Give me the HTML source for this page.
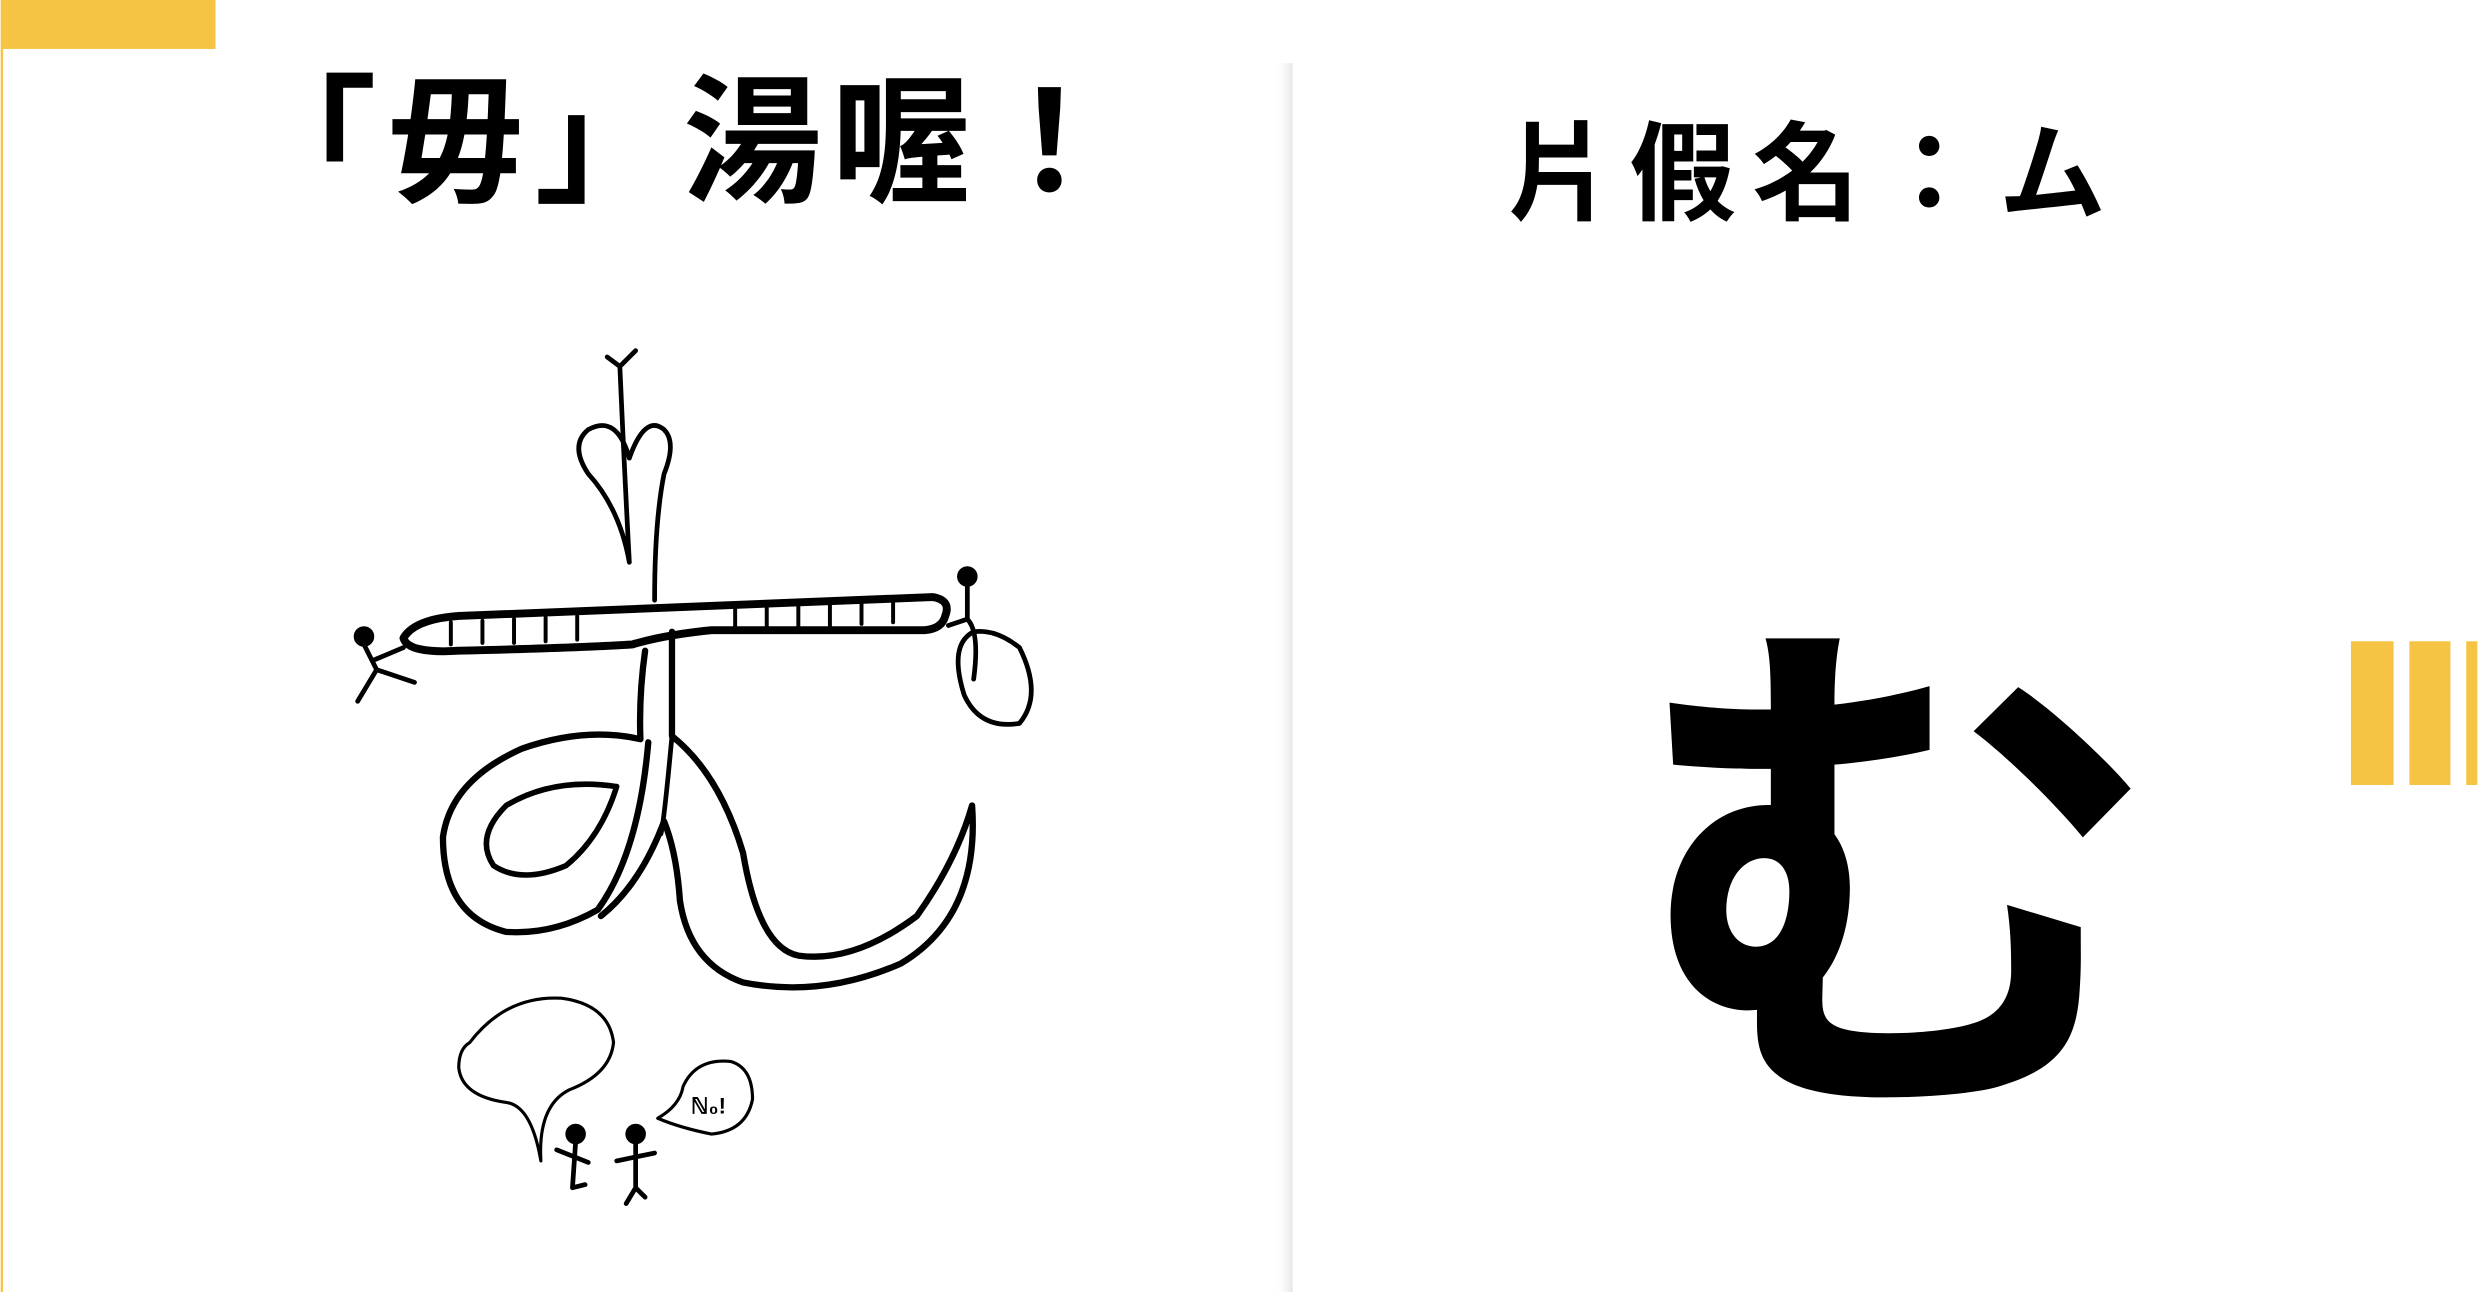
<!DOCTYPE html>
<html><head><meta charset="utf-8">
<style>
html,body{margin:0;padding:0;background:#fff;}
svg{display:block;}
text{font-family:"Liberation Sans","Noto Sans CJK TC","Noto Sans CJK JP",sans-serif;font-weight:700;fill:#000;}
</style></head>
<body>
<svg width="2478" height="1292" viewBox="0 0 1568 818" xmlns="http://www.w3.org/2000/svg">
  <defs>
    <linearGradient id="sh" x1="0" x2="1" y1="0" y2="0">
      <stop offset="0" stop-color="#fff" stop-opacity="0"/>
      <stop offset="1" stop-color="#e6e6e6"/>
    </linearGradient>
  </defs>
  <rect width="1568" height="818" fill="#fff"/>
  <rect x="0" y="0" width="136" height="31" fill="#f6c444"/>
  <rect x="0" y="31" width="1.5" height="787" fill="#f6c444"/>
  <text x="150" y="121" font-size="88" letter-spacing="6">「毋」湯喔！</text>
  <rect x="806" y="40" width="12" height="778" fill="url(#sh)"/>
  <text x="953" y="134" font-size="68" letter-spacing="10">片假名：ム</text>
  <text x="1030" y="676" font-size="336">む</text>
  <g fill="#f6c444">
    <rect x="1488" y="406" width="27" height="91"/>
    <rect x="1525" y="406" width="26" height="91"/>
    <rect x="1561" y="406" width="7" height="91"/>
  </g>
  <g fill="none" stroke="#000" stroke-width="3" stroke-linecap="round" stroke-linejoin="round">
    <path d="M255,404 Q262,392 290,390 L590,378 Q602,380 598,390 Q596,398 585,399 L450,399 Q420,402 400,408 Q370,410 290,412 Q258,414 255,404 Z" stroke-width="5"/>
    <path d="M285,394 v14 M305,393 v14 M325,392 v15 M345,391 v15 M365,390 v15 M465,384 v14 M485,383 v14 M505,382 v15 M525,381 v15 M545,380 v15 M565,380 v14" stroke-width="2.5"/>
    <path d="M398,356 Q395,300 392,232 M392,232 L402,222 M392,232 L384,226 M398,290 Q390,262 372,272 Q360,282 372,300 Q392,322 398,356"/>
    <path d="M398,290 Q408,262 420,272 Q428,280 420,300 Q414,330 414,380"/>
    <path d="M408,412 Q404,440 405,468 Q370,460 330,474 Q285,494 280,530 Q280,580 320,590 Q350,592 378,576 Q404,540 410,470" stroke-width="4"/>
    <path d="M390,498 Q350,492 320,510 Q300,530 312,548 Q330,560 358,548 Q380,530 390,498" stroke-width="3.5"/>
    <path d="M425,400 L425,466 Q455,490 470,540 Q480,600 505,605 Q540,610 580,580 Q605,545 615,510 Q620,580 570,610 Q520,632 470,622 Q436,610 430,570 Q428,540 420,520 Q405,560 380,580" stroke-width="4"/>
    <path d="M425,466 Q420,520 418,528" stroke-width="3"/>
    <circle cx="230" cy="403" r="5" fill="#000"/>
    <path d="M230,408 L238,424 L226,444 M238,424 L262,432 M236,418 L255,410"/>
    <circle cx="612" cy="365" r="5" fill="#000"/>
    <path d="M612,370 L612,392 L600,396 M612,392 Q620,400 616,430"/>
    <path d="M616,400 Q600,408 610,440 Q620,462 645,458 Q660,440 645,410 Q630,398 616,400"/>
    <path d="M297,660 Q320,630 355,632 Q385,636 388,660 Q386,680 360,690 Q340,700 342,735 Q336,700 320,698 Q292,694 290,676 Q290,664 297,660 Z" stroke-width="2"/>
    <path d="M432,688 Q440,670 462,672 Q476,676 476,696 Q472,716 450,718 Q430,714 416,708 Q430,700 432,688 Z" stroke-width="2"/>
    <text x="437" y="705" font-size="14" stroke="none">ℕ₀!</text>
    <circle cx="364" cy="718" r="5" fill="#000"/>
    <path d="M364,723 L362,752 M352,728 L372,736 M362,752 L370,750"/>
    <circle cx="402" cy="718" r="5" fill="#000"/>
    <path d="M402,723 L402,752 M390,735 L414,730 M402,752 L396,762 M402,752 L408,758"/>
  </g>
</svg>
</body></html>
